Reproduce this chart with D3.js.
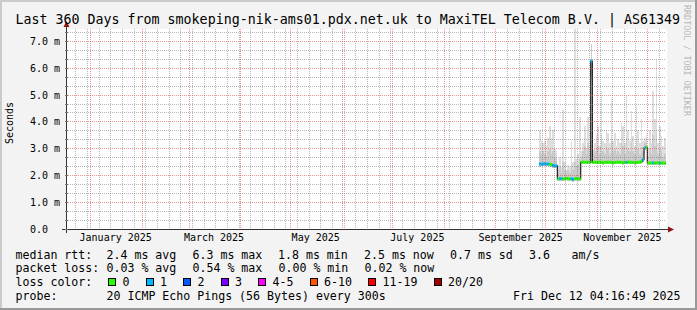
<!DOCTYPE html>
<html>
<head>
<meta charset="utf-8">
<script src="https://cdn.jsdelivr.net/npm/d3@7"></script>
<style>
body { margin: 0; background: #f3f3f3; }
svg { display: block; }
text { font-family: "DejaVu Sans Mono", monospace; fill: #000; }
</style>
</head>
<body>
<svg id="chart" width="697" height="310"></svg>
<script>
// ---- data ----
const title = "Last 360 Days from smokeping-nik-ams01.pdx.net.uk to MaxiTEL Telecom B.V. | AS61349"
const rangeStart = new Date(2024, 11, 17, 4, 16, 49)
const rangeEnd = new Date(2025, 11, 12, 4, 16, 49)
const firstDay = new Date(2025, 8, 27)
const yMax = 7.47
const yTicks = [0, 1, 2, 3, 4, 5, 6, 7]
const monthLabelDates = ["2025-01-16", "2025-03-16", "2025-05-16", "2025-07-16", "2025-09-16", "2025-11-16"]
const monthLabelTexts = ["January 2025", "March 2025", "May 2025", "July 2025", "September 2025", "November 2025"]

// daily median rtt (ms), one value per day from Sep 27 to Dec 12
const median = [
    2.43, 2.42, 2.43, 2.44, 2.42, 2.43, 2.42, 2.41, 2.37, 2.36, 2.36,
    1.87, 1.88, 1.88, 1.87, 1.88, 1.89, 1.88, 1.87, 1.88, 1.85, 1.88, 1.89, 1.88, 1.87,
    2.49, 2.50, 2.49, 2.49, 2.50, 2.49, 6.27, 2.49, 2.50, 2.49, 2.49, 2.50, 2.49, 2.48, 2.49, 2.49,
    2.50, 2.49, 2.49, 2.48, 2.49, 2.49, 2.50, 2.49, 2.49, 2.48, 2.49, 2.49, 2.50, 2.49, 2.49, 2.49,
    2.48, 2.49, 2.49, 2.50, 2.52, 2.59,
    3.03, 3.05,
    2.47, 2.46, 2.47, 2.47, 2.46, 2.47, 2.47, 2.46, 2.47, 2.47, 2.46, 2.47
]
// loss bucket index per day (0 = no loss, 1 = 1/20)
const loss = [
    1, 1, 1, 1, 1, 1, 0, 0, 1, 1, 1,
    0, 1, 1, 0, 0, 0, 0, 0, 1, 1, 0, 0, 0, 0,
    0, 0, 0, 0, 0, 0, 1, 0, 0, 0, 0, 0, 0, 0, 0, 0,
    0, 0, 0, 0, 0, 0, 0, 0, 0, 0, 0, 1, 0, 0, 0, 0,
    0, 0, 0, 0, 0, 1,
    1, 0,
    0, 0, 0, 1, 0, 0, 0, 1, 0, 0, 0, 0
]
// smoke: fastest ping, upper edge of dense smoke, slowest ping (ms)
const smokeLo = [
    2.33, 2.34, 2.35, 2.36, 2.34, 2.35, 2.33, 2.32, 2.29, 2.28, 2.28,
    1.80, 1.81, 1.80, 1.79, 1.80, 1.82, 1.81, 1.79, 1.80, 1.77, 1.80, 1.81, 1.80, 1.79,
    2.41, 2.42, 2.41, 2.41, 2.42, 2.41, 5.60, 2.41, 2.42, 2.41, 2.41, 2.42, 2.41, 2.40, 2.41, 2.41,
    2.42, 2.41, 2.41, 2.40, 2.41, 2.41, 2.42, 2.41, 2.41, 2.40, 2.41, 2.41, 2.42, 2.41, 2.41, 2.41,
    2.40, 2.41, 2.41, 2.42, 2.44, 2.50,
    2.95, 2.97,
    2.39, 2.38, 2.39, 2.39, 2.38, 2.39, 2.39, 2.38, 2.39, 2.39, 2.38, 2.39
]
const smokeMid = [
    2.90, 2.80, 2.90, 2.80, 2.70, 2.90, 3.00, 2.80, 2.90, 2.70, 2.60,
    2.20, 2.30, 2.10, 2.50, 2.20, 2.10, 2.20, 2.10, 2.40, 2.20, 2.50, 2.30, 2.40, 2.60,
    2.70, 2.90, 3.10, 2.80, 3.20, 2.80, 6.90, 2.80, 2.90, 3.00, 3.10, 2.80, 3.50, 2.90, 2.80, 3.10,
    3.00, 2.80, 3.40, 2.90, 3.00, 2.80, 2.90, 2.80, 3.20, 3.10, 2.80, 3.40, 3.00, 2.90, 3.20, 2.90,
    2.80, 3.30, 3.00, 2.80, 3.10, 2.90,
    3.20, 3.30,
    2.70, 3.00, 2.80, 3.50, 3.10, 3.60, 2.80, 3.00, 2.90, 2.70, 2.80, 2.80
]
const smokeHi = [
    3.70, 3.30, 3.20, 3.30, 3.10, 3.40, 3.84, 3.40, 3.70, 3.00, 2.90,
    2.40, 2.70, 2.30, 4.46, 2.50, 2.20, 2.40, 2.30, 3.30, 2.50, 7.47, 2.60, 2.80, 4.20,
    2.90, 3.20, 3.84, 3.00, 4.20, 3.10, 6.90, 3.00, 3.20, 3.50, 3.84, 3.10, 5.15, 3.30, 3.20, 3.70,
    3.60, 3.20, 4.84, 3.30, 3.60, 3.10, 3.35, 3.20, 3.96, 3.84, 3.20, 4.96, 3.70, 3.30, 4.40, 3.47,
    3.10, 4.60, 3.70, 3.20, 4.10, 3.30,
    3.40, 3.60,
    3.00, 3.70, 3.20, 5.15, 4.10, 6.30, 3.20, 3.84, 3.47, 3.10, 3.40, 3.35
]

const lossLabels = ["0", "1", "2", "3", "4-5", "6-10", "11-19", "20/20"]
const lossColors = ["#26ff00", "#00b8ff", "#0059ff", "#7e00ff", "#ff00ff", "#ff5500", "#ff0000", "#a10000"]

const legendRtt = [[15.5, "median rtt:"], [106.5, "2.4 ms avg"], [192.5, "6.3 ms max"], [278, "1.8 ms min"], [364, "2.5 ms now"], [450, "0.7 ms sd"], [529, "3.6"], [571.5, "am/s"]]
const legendLoss = [[15.5, "packet loss:"], [106.5, "0.03 % avg"], [192.5, "0.54 % max"], [278.5, "0.00 % min"], [364.5, "0.02 % now"]]
const legendProbe = [[15.5, "probe:"], [106.5, "20 ICMP Echo Pings (56 Bytes) every 300s"], [513, "Fri Dec 12 04:16:49 2025"]]
const stamp = "RRDTOOL / TOBI OETIKER"

// ---- layout ----
const width = 697
const height = 310
const plot = {left: 66, right: 666, top: 29, bottom: 229}

const svg = d3.select("#chart")

const x = d3.scaleTime()
    .domain([rangeStart, rangeEnd])
    .range([plot.left, plot.right])

const y = d3.scaleLinear()
    .domain([0, yMax])
    .range([plot.bottom, plot.top])

const crisp = v => Math.floor(v) + 0.5

// background + 3d frame
svg.append("rect").attr("width", width).attr("height", height).attr("fill", "#f3f3f3")
svg.append("rect").attr("x", 0).attr("y", 0).attr("width", width).attr("height", 2).attr("fill", "#cbcbcb")
svg.append("rect").attr("x", 0).attr("y", 0).attr("width", 2).attr("height", height).attr("fill", "#cbcbcb")
svg.append("rect").attr("x", 0).attr("y", height - 2).attr("width", width).attr("height", 2).attr("fill", "#999")
svg.append("rect").attr("x", width - 2).attr("y", 0).attr("width", 2).attr("height", height).attr("fill", "#999")

// canvas
svg.append("rect")
    .attr("x", plot.left).attr("y", plot.top)
    .attr("width", plot.right - plot.left + 1).attr("height", plot.bottom - plot.top)
    .attr("fill", "#fff")

svg.append("clipPath").attr("id", "clip")
    .append("rect")
    .attr("x", plot.left).attr("y", plot.top)
    .attr("width", plot.right - plot.left).attr("height", plot.bottom - plot.top)

// ---- smoke, median and loss colour ----
const days = d3.range(median.length).map(i => d3.timeDay.offset(firstDay, i))
const dayEnd = i => d3.timeDay.offset(days[i], 1)

const data = days.map((d, i) => ({
    day: d, med: median[i], loss: loss[i],
    lo: smokeLo[i], mid: smokeMid[i], hi: smokeHi[i]
}))

const graph = svg.append("g").attr("clip-path", "url(#clip)")

graph.selectAll("rect.smoke-hi")
    .data(data)
    .enter()
    .append("rect")
    .attr("class", "smoke-hi")
    .attr("x", (d, i) => x(d.day))
    .attr("width", (d, i) => x(dayEnd(i)) - x(d.day))
    .attr("y", d => y(d.hi))
    .attr("height", d => y(d.lo) - y(d.hi))
    .attr("fill", "#dedede")
    .attr("shape-rendering", "crispEdges")

graph.selectAll("rect.smoke-mid")
    .data(data)
    .enter()
    .append("rect")
    .attr("class", "smoke-mid")
    .attr("x", (d, i) => x(d.day))
    .attr("width", (d, i) => x(dayEnd(i)) - x(d.day))
    .attr("y", d => y(d.mid))
    .attr("height", d => y(d.lo) - y(d.mid))
    .attr("fill", "#cacaca")
    .attr("shape-rendering", "crispEdges")

const stepPoints = data.map(d => [x(d.day), y(d.med)])
stepPoints.push([x(dayEnd(data.length - 1)), y(median[median.length - 1])])

graph.append("path")
    .attr("d", d3.line().curve(d3.curveStepAfter)(stepPoints))
    .attr("fill", "none")
    .attr("stroke", "#202020")
    .attr("stroke-width", 1.2)

graph.selectAll("rect.loss")
    .data(data)
    .enter()
    .append("rect")
    .attr("class", "loss")
    .attr("x", (d, i) => x(d.day))
    .attr("width", (d, i) => x(dayEnd(i)) - x(d.day))
    .attr("y", d => y(d.med) - 1.5)
    .attr("height", 3)
    .attr("fill", d => lossColors[d.loss])

// ---- grid (drawn over the graph, as rrdtool does) ----
const grid = svg.append("g").attr("shape-rendering", "crispEdges")
const monthStarts = d3.timeMonth.range(rangeStart, rangeEnd)
const weekStarts = d3.timeMonday.range(rangeStart, rangeEnd)
    .filter(d => d.getDate() !== 1)
const minorY = d3.range(0, yMax, 1 / 3).filter((v, i) => i % 3 !== 0)

grid.selectAll("line.vminor")
    .data(weekStarts)
    .enter()
    .append("line")
    .attr("x1", d => crisp(x(d))).attr("x2", d => crisp(x(d)))
    .attr("y1", plot.top).attr("y2", plot.bottom)
    .attr("stroke", "rgba(110,110,110,0.5)")
    .attr("stroke-dasharray", "1,1")

grid.selectAll("line.hminor")
    .data(minorY)
    .enter()
    .append("line")
    .attr("x1", plot.left).attr("x2", plot.right)
    .attr("y1", d => crisp(y(d))).attr("y2", d => crisp(y(d)))
    .attr("stroke", "rgba(110,110,110,0.5)")
    .attr("stroke-dasharray", "1,1")

grid.selectAll("line.vmajor")
    .data(monthStarts)
    .enter()
    .append("line")
    .attr("x1", d => crisp(x(d))).attr("x2", d => crisp(x(d)))
    .attr("y1", plot.top).attr("y2", plot.bottom)
    .attr("stroke", "rgba(230,60,60,0.55)")
    .attr("stroke-dasharray", "1,1")

grid.selectAll("line.hmajor")
    .data(yTicks.filter(v => v > 0))
    .enter()
    .append("line")
    .attr("x1", plot.left).attr("x2", plot.right)
    .attr("y1", d => crisp(y(d))).attr("y2", d => crisp(y(d)))
    .attr("stroke", "rgba(230,60,60,0.55)")
    .attr("stroke-dasharray", "1,1")

// ---- axes ----
const axisColor = "#333"
const arrowColor = "#8f1414"

svg.append("line")
    .attr("x1", plot.left - 4).attr("x2", plot.right + 3)
    .attr("y1", plot.bottom + 0.5).attr("y2", plot.bottom + 0.5)
    .attr("stroke", axisColor)
svg.append("path")
    .attr("d", `M${plot.right + 2},${plot.bottom - 2.5} L${plot.right + 8},${plot.bottom + 0.5} L${plot.right + 2},${plot.bottom + 3.5} Z`)
    .attr("fill", arrowColor)

svg.append("line")
    .attr("x1", plot.left + 0.5).attr("x2", plot.left + 0.5)
    .attr("y1", plot.bottom + 4).attr("y2", plot.top - 3)
    .attr("stroke", axisColor)
svg.append("path")
    .attr("d", `M${plot.left - 2.5},${plot.top - 2} L${plot.left + 0.5},${plot.top - 8} L${plot.left + 3.5},${plot.top - 2} Z`)
    .attr("fill", arrowColor)

// small ticks on the y axis
svg.selectAll("line.ytick")
    .data(yTicks.concat(minorY))
    .enter()
    .append("line")
    .attr("x1", plot.left - 1).attr("x2", plot.left + 2)
    .attr("y1", d => crisp(y(d))).attr("y2", d => crisp(y(d)))
    .attr("stroke", "#777")

svg.selectAll("text.ylab")
    .data(yTicks)
    .enter()
    .append("text")
    .attr("x", 30)
    .attr("y", d => y(d) + 3.5)
    .attr("font-size", "10px")
    .attr("xml:space", "preserve")
    .text(d => d === 0 ? "0.0" : d.toFixed(1) + " m")

svg.selectAll("text.xlab")
    .data(monthLabelDates)
    .enter()
    .append("text")
    .attr("x", d => x(new Date(d + "T00:00:00")))
    .attr("y", 241)
    .attr("text-anchor", "middle")
    .attr("font-size", "10px")
    .text((d, i) => monthLabelTexts[i])

svg.append("text")
    .attr("transform", "translate(13,123) rotate(-90)")
    .attr("text-anchor", "middle")
    .attr("font-size", "10px")
    .text("Seconds")

// title
svg.append("text")
    .attr("x", 15.5)
    .attr("y", 24)
    .attr("font-size", "13.3px")
    .text(title)

// watermark
svg.append("text")
    .attr("transform", "translate(683.5,5) rotate(90)")
    .attr("font-size", "8.4px")
    .style("fill", "#b8b8b8")
    .text(stamp)

// ---- legend ----
const legendFont = "11.6px"
const rowY = [258.5, 272.2, 285.9, 299.6]

const drawRow = (items, yPos) => {
    svg.selectAll(null)
        .data(items)
        .enter()
        .append("text")
        .attr("x", d => d[0])
        .attr("y", yPos)
        .attr("font-size", legendFont)
        .attr("xml:space", "preserve")
        .text(d => d[1])
}
drawRow(legendRtt, rowY[0])
drawRow(legendLoss, rowY[1])
drawRow([[15.5, "loss color:"]], rowY[2])
drawRow(legendProbe, rowY[3])

let bx = 108.3
lossLabels.forEach((lab, i) => {
    svg.append("rect")
        .attr("x", Math.round(bx) + 0.5).attr("y", 278.5)
        .attr("width", 7).attr("height", 7)
        .attr("fill", lossColors[i])
        .attr("stroke", "#000")
    svg.append("text")
        .attr("x", bx + 14.3)
        .attr("y", rowY[2])
        .attr("font-size", legendFont)
        .text(lab)
    bx += 15 + 7 * lab.length + 15.5
})
</script>
</body>
</html>
